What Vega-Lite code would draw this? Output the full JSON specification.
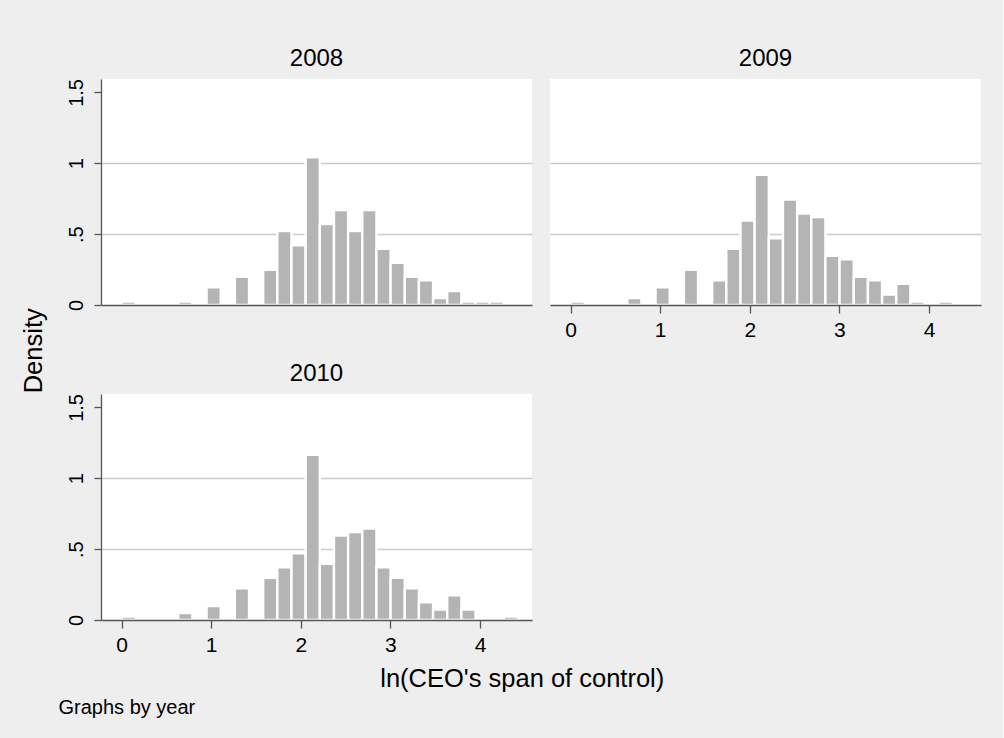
{
  "$schema": "https://vega.github.io/schema/vega-lite/v6.json",
  "background": "#eeeeee",
  "padding": {"left": 21, "top": 46, "right": 22, "bottom": 22},
  "config": {
    "font": "Liberation Sans",
    "view": {"fill": "white", "stroke": null},
    "axis": {"labelFont": "Liberation Sans", "labelColor": "#000000", "labelFontSize": 21, "domainColor": "#555555", "tickColor": "#555555", "domainWidth": 1.3, "tickWidth": 1.3, "title": null},
    "title": {"font": "Liberation Sans", "fontWeight": "normal", "color": "#000000"}
  },
  "datasets": {
    "h": [
      {"year": 2008, "bin_start": 0, "bin_end": 0.158, "density": 0.0248},
      {"year": 2008, "bin_start": 0.632, "bin_end": 0.79, "density": 0.0248},
      {"year": 2008, "bin_start": 0.948, "bin_end": 1.106, "density": 0.1241},
      {"year": 2008, "bin_start": 1.264, "bin_end": 1.422, "density": 0.1986},
      {"year": 2008, "bin_start": 1.58, "bin_end": 1.738, "density": 0.2482},
      {"year": 2008, "bin_start": 1.738, "bin_end": 1.896, "density": 0.5212},
      {"year": 2008, "bin_start": 1.896, "bin_end": 2.054, "density": 0.4219},
      {"year": 2008, "bin_start": 2.054, "bin_end": 2.212, "density": 1.0424},
      {"year": 2008, "bin_start": 2.212, "bin_end": 2.37, "density": 0.5709},
      {"year": 2008, "bin_start": 2.37, "bin_end": 2.528, "density": 0.6701},
      {"year": 2008, "bin_start": 2.528, "bin_end": 2.686, "density": 0.5212},
      {"year": 2008, "bin_start": 2.686, "bin_end": 2.844, "density": 0.6701},
      {"year": 2008, "bin_start": 2.844, "bin_end": 3.002, "density": 0.3971},
      {"year": 2008, "bin_start": 3.002, "bin_end": 3.16, "density": 0.2978},
      {"year": 2008, "bin_start": 3.16, "bin_end": 3.318, "density": 0.1986},
      {"year": 2008, "bin_start": 3.318, "bin_end": 3.476, "density": 0.1737},
      {"year": 2008, "bin_start": 3.476, "bin_end": 3.634, "density": 0.0496},
      {"year": 2008, "bin_start": 3.634, "bin_end": 3.792, "density": 0.0993},
      {"year": 2008, "bin_start": 3.792, "bin_end": 3.95, "density": 0.0248},
      {"year": 2008, "bin_start": 3.95, "bin_end": 4.108, "density": 0.0248},
      {"year": 2008, "bin_start": 4.108, "bin_end": 4.266, "density": 0.0248},
      {"year": 2009, "bin_start": 0, "bin_end": 0.158, "density": 0.0248},
      {"year": 2009, "bin_start": 0.632, "bin_end": 0.79, "density": 0.0496},
      {"year": 2009, "bin_start": 0.948, "bin_end": 1.106, "density": 0.1241},
      {"year": 2009, "bin_start": 1.264, "bin_end": 1.422, "density": 0.2482},
      {"year": 2009, "bin_start": 1.58, "bin_end": 1.738, "density": 0.1737},
      {"year": 2009, "bin_start": 1.738, "bin_end": 1.896, "density": 0.3971},
      {"year": 2009, "bin_start": 1.896, "bin_end": 2.054, "density": 0.5957},
      {"year": 2009, "bin_start": 2.054, "bin_end": 2.212, "density": 0.9183},
      {"year": 2009, "bin_start": 2.212, "bin_end": 2.37, "density": 0.4716},
      {"year": 2009, "bin_start": 2.37, "bin_end": 2.528, "density": 0.7446},
      {"year": 2009, "bin_start": 2.528, "bin_end": 2.686, "density": 0.6453},
      {"year": 2009, "bin_start": 2.686, "bin_end": 2.844, "density": 0.6205},
      {"year": 2009, "bin_start": 2.844, "bin_end": 3.002, "density": 0.3475},
      {"year": 2009, "bin_start": 3.002, "bin_end": 3.16, "density": 0.3227},
      {"year": 2009, "bin_start": 3.16, "bin_end": 3.318, "density": 0.1986},
      {"year": 2009, "bin_start": 3.318, "bin_end": 3.476, "density": 0.1737},
      {"year": 2009, "bin_start": 3.476, "bin_end": 3.634, "density": 0.0745},
      {"year": 2009, "bin_start": 3.634, "bin_end": 3.792, "density": 0.1489},
      {"year": 2009, "bin_start": 3.792, "bin_end": 3.95, "density": 0.0248},
      {"year": 2009, "bin_start": 4.108, "bin_end": 4.266, "density": 0.0248},
      {"year": 2010, "bin_start": 0, "bin_end": 0.158, "density": 0.0248},
      {"year": 2010, "bin_start": 0.632, "bin_end": 0.79, "density": 0.0496},
      {"year": 2010, "bin_start": 0.948, "bin_end": 1.106, "density": 0.0993},
      {"year": 2010, "bin_start": 1.264, "bin_end": 1.422, "density": 0.2234},
      {"year": 2010, "bin_start": 1.58, "bin_end": 1.738, "density": 0.2978},
      {"year": 2010, "bin_start": 1.738, "bin_end": 1.896, "density": 0.3723},
      {"year": 2010, "bin_start": 1.896, "bin_end": 2.054, "density": 0.4716},
      {"year": 2010, "bin_start": 2.054, "bin_end": 2.212, "density": 1.1665},
      {"year": 2010, "bin_start": 2.212, "bin_end": 2.37, "density": 0.3971},
      {"year": 2010, "bin_start": 2.37, "bin_end": 2.528, "density": 0.5957},
      {"year": 2010, "bin_start": 2.528, "bin_end": 2.686, "density": 0.6205},
      {"year": 2010, "bin_start": 2.686, "bin_end": 2.844, "density": 0.6453},
      {"year": 2010, "bin_start": 2.844, "bin_end": 3.002, "density": 0.3723},
      {"year": 2010, "bin_start": 3.002, "bin_end": 3.16, "density": 0.2978},
      {"year": 2010, "bin_start": 3.16, "bin_end": 3.318, "density": 0.2234},
      {"year": 2010, "bin_start": 3.318, "bin_end": 3.476, "density": 0.1241},
      {"year": 2010, "bin_start": 3.476, "bin_end": 3.634, "density": 0.0745},
      {"year": 2010, "bin_start": 3.634, "bin_end": 3.792, "density": 0.1737},
      {"year": 2010, "bin_start": 3.792, "bin_end": 3.95, "density": 0.0745},
      {"year": 2010, "bin_start": 4.266, "bin_end": 4.424, "density": 0.0248}
    ]
  },
  "title": {"text": "Graphs by year", "orient": "bottom", "anchor": "start", "fontSize": 20, "dx": 37, "offset": 5},
  "vconcat": [
    {
      "title": {"text": "ln(CEO's span of control)", "orient": "bottom", "anchor": "middle", "fontSize": 25.5, "offset": 12, "dx": 21},
      "vconcat": [
        {
          "title": {"text": "Density", "orient": "left", "anchor": "middle", "fontSize": 25.5, "offset": 19},
          "spacing": 21,
          "vconcat": [
            {
              "spacing": 18,
              "hconcat": [
                {
                  "width": 431, "height": 226,
                  "title": {"text": "2008", "anchor": "middle", "fontSize": 24, "offset": 8},
                  "data": {"name": "h"},
                  "transform": [{"filter": "datum.year == 2008"}],
                  "mark": {"type": "bar", "fill": "#b4b4b4", "stroke": "white", "strokeWidth": 2.4, "clip": true},
                  "encoding": {
                    "x": {"field": "bin_start", "type": "quantitative", "scale": {"domain": [-0.23, 4.58], "nice": false, "zero": false},
                      "axis": {"labels": false, "ticks": false, "domain": true, "grid": false, "zindex": 1}},
                    "x2": {"field": "bin_end"},
                    "y": {"field": "density", "type": "quantitative", "scale": {"domain": [0, 1.595], "nice": false},
                      "axis": {"values": [0, 0.5, 1, 1.5], "labelExpr": "datum.value == 0.5 ? '.5' : toString(datum.value)", "labelFontSize": 20, "labelAngle": 270, "labelAlign": "center", "labelBaseline": "bottom", "tickSize": 7, "labelPadding": 8, "grid": true, "gridColor": "#cccccc", "gridWidth": 1.3, "gridOpacity": {"condition": {"test": "datum.value == 0.5 || datum.value == 1", "value": 1}, "value": 0}}},
                    "y2": {"datum": 0}
                  }
                },
                {
                  "width": 431, "height": 226,
                  "title": {"text": "2009", "anchor": "middle", "fontSize": 24, "offset": 8},
                  "data": {"name": "h"},
                  "transform": [{"filter": "datum.year == 2009"}],
                  "mark": {"type": "bar", "fill": "#b4b4b4", "stroke": "white", "strokeWidth": 2.4, "clip": true},
                  "encoding": {
                    "x": {"field": "bin_start", "type": "quantitative", "scale": {"domain": [-0.23, 4.58], "nice": false, "zero": false},
                      "axis": {"values": [0, 1, 2, 3, 4], "format": "d", "labelFontSize": 21, "tickSize": 8, "labelPadding": 6, "grid": false, "zindex": 1}},
                    "x2": {"field": "bin_end"},
                    "y": {"field": "density", "type": "quantitative", "scale": {"domain": [0, 1.595], "nice": false},
                      "axis": {"values": [0, 0.5, 1, 1.5], "labels": false, "ticks": false, "domain": false, "grid": true, "gridColor": "#cccccc", "gridWidth": 1.3, "gridOpacity": {"condition": {"test": "datum.value == 0.5 || datum.value == 1", "value": 1}, "value": 0}}},
                    "y2": {"datum": 0}
                  }
                }
              ]
            },
            {
              "hconcat": [
                {
                  "width": 431, "height": 226,
                  "title": {"text": "2010", "anchor": "middle", "fontSize": 24, "offset": 8},
                  "data": {"name": "h"},
                  "transform": [{"filter": "datum.year == 2010"}],
                  "mark": {"type": "bar", "fill": "#b4b4b4", "stroke": "white", "strokeWidth": 2.4, "clip": true},
                  "encoding": {
                    "x": {"field": "bin_start", "type": "quantitative", "scale": {"domain": [-0.23, 4.58], "nice": false, "zero": false},
                      "axis": {"values": [0, 1, 2, 3, 4], "format": "d", "labelFontSize": 21, "tickSize": 8, "labelPadding": 6, "grid": false, "zindex": 1}},
                    "x2": {"field": "bin_end"},
                    "y": {"field": "density", "type": "quantitative", "scale": {"domain": [0, 1.595], "nice": false},
                      "axis": {"values": [0, 0.5, 1, 1.5], "labelExpr": "datum.value == 0.5 ? '.5' : toString(datum.value)", "labelFontSize": 20, "labelAngle": 270, "labelAlign": "center", "labelBaseline": "bottom", "tickSize": 7, "labelPadding": 8, "grid": true, "gridColor": "#cccccc", "gridWidth": 1.3, "gridOpacity": {"condition": {"test": "datum.value == 0.5 || datum.value == 1", "value": 1}, "value": 0}}},
                    "y2": {"datum": 0}
                  }
                }
              ]
            }
          ]
        }
      ]
    }
  ]
}
